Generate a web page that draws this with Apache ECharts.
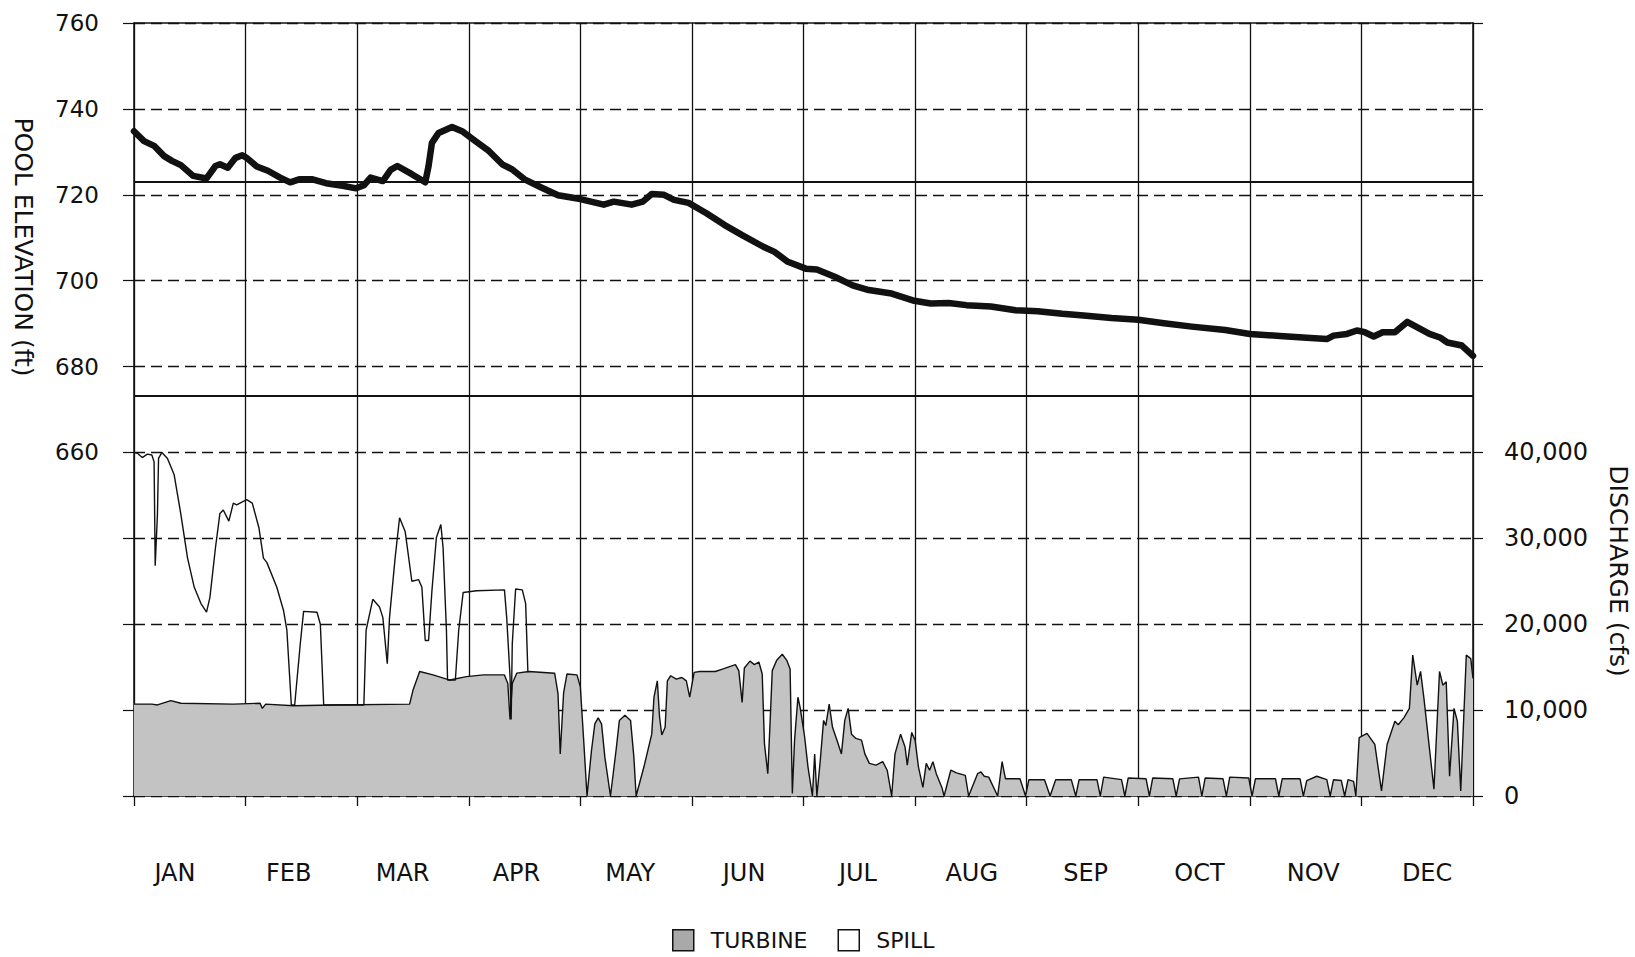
<!DOCTYPE html>
<html>
<head>
<meta charset="utf-8">
<script src="https://cdn.jsdelivr.net/npm/echarts@6/dist/echarts.min.js"></script>
<style>
  html, body { margin: 0; padding: 0; background: #fff; }
  #chart { width: 1635px; height: 957px; }
</style>
</head>
<body>
<div id="chart"></div>
<script>
// ---- Data (x = position in months from 1 Jan, 0..12) ----
const months = ['JAN','FEB','MAR','APR','MAY','JUN','JUL','AUG','SEP','OCT','NOV','DEC'];
const elevationTicks = [660, 680, 700, 720, 740, 760];
const dischargeTicks = [0, 10000, 20000, 30000, 40000];
const guideLevels = [723, 673.3];

// Pool elevation (ft)
const poolElevation = [
  [0,734.8],[0.09,732.5],[0.18,731.4],[0.27,729.0],[0.34,727.9],[0.42,726.9],[0.53,724.4],[0.65,723.8],
  [0.73,726.7],[0.77,727.1],[0.84,726.3],[0.91,728.6],[0.97,729.2],[1.01,728.6],[1.10,726.6],[1.20,725.6],
  [1.31,724.0],[1.40,722.9],[1.48,723.6],[1.60,723.6],[1.72,722.7],[1.87,722.1],[1.99,721.5],[2.06,722.2],
  [2.12,724.0],[2.23,723.2],[2.30,725.8],[2.36,726.7],[2.49,724.8],[2.61,722.9],[2.64,726.7],[2.67,732.1],
  [2.73,734.4],[2.85,735.8],[2.94,734.8],[3.06,732.5],[3.18,730.2],[3.30,727.1],[3.39,725.9],[3.50,723.6],
  [3.65,721.7],[3.80,719.9],[4.0,719.0],[4.21,717.7],[4.30,718.4],[4.46,717.7],[4.56,718.4],[4.64,720.2],
  [4.75,720.0],[4.84,718.8],[4.97,718.1],[5.13,715.7],[5.29,713.0],[5.45,710.6],[5.64,707.9],[5.74,706.7],
  [5.86,704.4],[6.02,702.8],[6.12,702.6],[6.28,700.9],[6.44,698.9],[6.57,697.9],[6.79,697.0],[6.98,695.4],
  [7.14,694.7],[7.30,694.8],[7.46,694.3],[7.68,694.0],[7.90,693.1],[8.10,692.9],[8.32,692.3],[8.51,691.9],
  [8.76,691.3],[9.0,690.9],[9.23,690.1],[9.48,689.3],[9.78,688.5],[10.0,687.6],[10.27,687.1],[10.51,686.7],
  [10.69,686.4],[10.75,687.2],[10.87,687.6],[10.96,688.4],[11.03,688.0],[11.11,687.0],[11.19,688.0],
  [11.30,688.0],[11.41,690.4],[11.51,689.0],[11.61,687.6],[11.71,686.7],[11.77,685.6],[11.90,684.9],[12.0,682.5]
];

// Turbine discharge (cfs)
const turbineFlow = [
  [0,10700],[0.16,10700],[0.21,10600],[0.33,11100],[0.42,10800],[0.89,10700],[1.13,10800],[1.15,10200],
  [1.18,10700],[1.43,10500],[1.79,10600],[2.47,10700],[2.50,12300],[2.56,14500],[2.68,14100],[2.83,13500],
  [2.98,13900],[3.13,14100],[3.32,14100],[3.35,13100],[3.37,8900],[3.39,13100],[3.43,14300],[3.54,14500],
  [3.77,14300],[3.80,11900],[3.82,4900],[3.85,12000],[3.88,14200],[3.97,14100],[4.0,12700],[4.03,6500],
  [4.06,0],[4.10,5300],[4.13,8400],[4.16,9100],[4.19,8400],[4.22,4500],[4.27,0],[4.32,5300],[4.35,8800],
  [4.40,9400],[4.45,8800],[4.48,4500],[4.50,0],[4.57,3400],[4.64,7200],[4.66,11500],[4.69,13400],[4.71,9200],
  [4.73,7100],[4.76,8000],[4.78,13400],[4.81,14000],[4.86,13600],[4.91,13800],[4.95,13400],[4.98,11500],
  [5.02,14400],[5.07,14500],[5.21,14500],[5.28,14800],[5.39,15300],[5.42,14600],[5.45,10900],[5.47,14900],
  [5.52,15700],[5.56,15300],[5.60,15600],[5.63,14200],[5.65,6100],[5.68,2600],[5.70,8400],[5.72,14600],
  [5.76,15800],[5.81,16500],[5.85,15800],[5.88,14800],[5.90,300],[5.92,6500],[5.95,11500],[5.97,10300],
  [6.01,6900],[6.04,3400],[6.08,0],[6.10,4900],[6.12,0],[6.15,4100],[6.18,8800],[6.20,8200],[6.23,10700],
  [6.26,8000],[6.30,6500],[6.34,4900],[6.37,8800],[6.40,10200],[6.43,7200],[6.47,6700],[6.52,6500],
  [6.55,4900],[6.59,3800],[6.65,3600],[6.71,4000],[6.75,3000],[6.79,0],[6.82,4900],[6.87,7200],[6.91,5700],
  [6.93,3600],[6.97,7400],[7.0,6500],[7.03,3400],[7.07,1000],[7.10,3800],[7.13,3000],[7.16,4000],[7.19,2600],
  [7.24,1000],[7.26,0],[7.32,3000],[7.37,2700],[7.45,2400],[7.48,0],[7.56,2600],[7.59,2800],[7.62,2300],
  [7.66,2200],[7.74,0],[7.78,4000],[7.81,2000],[7.94,2000],[7.99,0],[8.02,1900],[8.16,1900],[8.21,0],
  [8.26,1900],[8.40,1900],[8.44,0],[8.47,1900],[8.63,1900],[8.66,0],[8.69,2200],[8.85,1900],[8.88,0],
  [8.91,2100],[9.07,2000],[9.10,0],[9.13,2100],[9.31,2000],[9.34,0],[9.37,2000],[9.54,2200],[9.57,0],
  [9.60,2100],[9.76,2000],[9.79,0],[9.82,2200],[9.99,2100],[10.02,0],[10.05,2000],[10.23,2000],[10.26,0],
  [10.29,2000],[10.45,2000],[10.48,0],[10.51,1800],[10.60,2300],[10.69,1900],[10.72,0],[10.75,1900],
  [10.82,1800],[10.85,0],[10.88,1900],[10.93,1700],[10.95,0],[10.98,6800],[11.05,7300],[11.12,6000],
  [11.18,600],[11.23,6000],[11.30,8700],[11.33,8300],[11.38,9100],[11.43,10200],[11.46,16400],[11.50,12900],
  [11.53,14500],[11.56,11400],[11.65,800],[11.70,14500],[11.73,12900],[11.76,13300],[11.79,2300],
  [11.83,10200],[11.86,8700],[11.89,600],[11.94,16400],[11.98,16000],[12.0,13700]
];

// Total discharge (turbine + spill), cfs, while spilling
const spillTotalFlow = [
  [0,40000],[0.03,39900],[0.074,39400],[0.12,39800],[0.16,39700],[0.18,38900],[0.19,26800],[0.21,32800],
  [0.22,39300],[0.25,40000],[0.30,39300],[0.36,37400],[0.42,32800],[0.48,27700],[0.54,24300],[0.60,22400],
  [0.65,21400],[0.68,23100],[0.73,28900],[0.77,32900],[0.80,33300],[0.85,32000],[0.89,34100],[0.92,33900],
  [1.01,34500],[1.06,34100],[1.12,31200],[1.16,27700],[1.19,27200],[1.28,24300],[1.34,21600],[1.37,19300],
  [1.41,10600],[1.44,10600],[1.49,17700],[1.52,21500],[1.64,21400],[1.67,20000],[1.70,10600],[2.06,10600],
  [2.08,19300],[2.14,22900],[2.20,22000],[2.23,20800],[2.27,15400],[2.29,20800],[2.34,27700],[2.38,32400],
  [2.43,30800],[2.49,25000],[2.55,25200],[2.58,24300],[2.61,18100],[2.64,18100],[2.67,23900],[2.71,30100],
  [2.75,31600],[2.77,28900],[2.80,19300],[2.81,13500],[2.88,13500],[2.91,19300],[2.95,23700],[3.07,23900],
  [3.32,24000],[3.34,20800],[3.37,13900],[3.38,8900],[3.39,17700],[3.42,24100],[3.48,24000],[3.51,22400],
  [3.53,14400]
];

// ---- Chart ----
const FONT = 'DejaVu Sans';
const INK = '#111';
const chart = echarts.init(document.getElementById('chart'), null, { renderer: 'svg' });

chart.setOption({
  animation: false,
  backgroundColor: '#fff',
  grid: [
    { left: 134, right: 162, top: 23, bottom: 161, containLabel: false },
    // month-label strip (labels in the original are spaced slightly wider than the grid)
    { left: 118, right: 151, top: 23, bottom: 161, containLabel: false }
  ],
  legend: {
    left: 667, top: 924,
    itemWidth: 21, itemHeight: 21, itemGap: 30,
    textStyle: { fontFamily: FONT, fontSize: 22, color: INK, padding: [0, 0, 0, 12] },
    data: [
      { name: 'TURBINE', icon: 'rect', itemStyle: { color: '#a9a9a9', borderColor: INK, borderWidth: 1.5 } },
      { name: 'SPILL', icon: 'rect', itemStyle: { color: '#fff', borderColor: INK, borderWidth: 1.5 } }
    ]
  },
  xAxis: [
    {
      type: 'category', data: months, boundaryGap: true, position: 'bottom', gridIndex: 0,
      axisLine: { lineStyle: { color: INK, width: 1.5 } },
      axisTick: { show: true, length: 10, lineStyle: { color: INK, width: 1.3 } },
      axisLabel: { show: false },
      splitLine: { show: true, lineStyle: { color: INK, width: 1.3, type: 'solid' } }
    },
    {
      type: 'value', min: 0, max: 12, interval: 1, position: 'top', gridIndex: 0,
      axisLine: { show: true, onZero: false, lineStyle: { color: INK, width: 1.5 } },
      axisTick: { show: false }, axisLabel: { show: false }, splitLine: { show: false }
    },
    {
      type: 'category', data: months, boundaryGap: true, position: 'bottom', gridIndex: 1,
      axisLine: { show: false }, axisTick: { show: false }, splitLine: { show: false },
      axisLabel: { fontFamily: FONT, fontSize: 24, color: INK, margin: 65, interval: 0 }
    }
  ],
  yAxis: [
    {
      type: 'value', min: 580, max: 760, interval: 20, position: 'left', gridIndex: 0,
      axisLine: { show: true, lineStyle: { color: INK, width: 1.5 } },
      axisTick: { show: true, length: 11, lineStyle: { color: INK, width: 1.2 } },
      axisLabel: {
        fontFamily: FONT, fontSize: 23, color: INK, margin: 35,
        formatter: v => (elevationTicks.indexOf(v) >= 0 ? String(v) : '')
      },
      splitLine: { show: true, lineStyle: { color: INK, width: 1.3, type: [11, 6] } }
    },
    {
      type: 'value', min: 0, max: 90000, interval: 10000, position: 'right', gridIndex: 0,
      axisLine: { show: true, lineStyle: { color: INK, width: 1.5 } },
      axisTick: { show: true, length: 10, lineStyle: { color: INK, width: 1.2 } },
      axisLabel: {
        fontFamily: FONT, fontSize: 24, color: INK, margin: 31,
        formatter: v => (dischargeTicks.indexOf(v) >= 0 ? v.toLocaleString('en-US') : '')
      },
      splitLine: { show: false }
    },
    {
      type: 'value', min: 0, max: 1, gridIndex: 1, show: false
    }
  ],
  series: [
    {
      name: 'TURBINE', type: 'line', xAxisIndex: 1, yAxisIndex: 1,
      data: turbineFlow, symbol: 'none', z: 2,
      lineStyle: { color: INK, width: 1.4 },
      itemStyle: { color: '#a9a9a9' },
      areaStyle: { color: '#c3c3c3', opacity: 1 }
    },
    {
      name: 'SPILL', type: 'line', xAxisIndex: 1, yAxisIndex: 1,
      data: spillTotalFlow, symbol: 'none', z: 3,
      lineStyle: { color: INK, width: 1.4 },
      itemStyle: { color: '#fff' }
    },
    {
      name: 'POOL ELEVATION', type: 'line', xAxisIndex: 1, yAxisIndex: 0,
      data: poolElevation, symbol: 'none', z: 5,
      lineStyle: { color: INK, width: 6.5, join: 'round', cap: 'round' },
      markLine: {
        silent: true, symbol: ['none', 'none'], label: { show: false },
        lineStyle: { color: INK, width: 2, type: 'solid' },
        data: guideLevels.map(v => ({ yAxis: v }))
      }
    }
  ],
  graphic: [
    {
      type: 'text', x: 23, y: 247, rotation: -Math.PI / 2,
      style: { text: 'POOL ELEVATION (ft)', fontFamily: FONT, fontSize: 25, fill: INK, align: 'center', verticalAlign: 'middle' }
    },
    {
      type: 'text', x: 1618, y: 571, rotation: -Math.PI / 2,
      style: { text: 'DISCHARGE (cfs)', fontFamily: FONT, fontSize: 25, fill: INK, align: 'center', verticalAlign: 'middle' }
    }
  ]
});
</script>
</body>
</html>
